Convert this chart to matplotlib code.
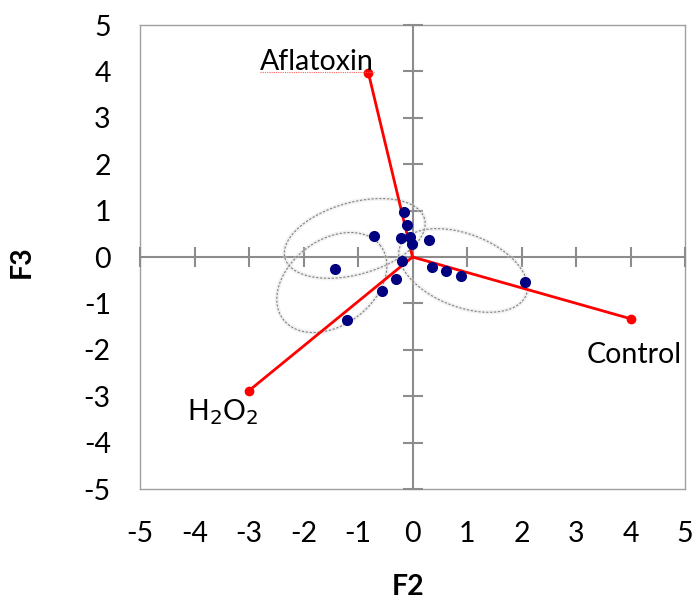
import numpy as np
import matplotlib
matplotlib.use("Agg")
import matplotlib.pyplot as plt
from matplotlib.lines import Line2D

plt.rcParams['font.family'] = ['Lato', 'DejaVu Sans']

# sample scores on F2 / F3
f2_scores = [-0.15, -0.10, -0.70, -0.21, -0.04, -0.01, 0.30, -1.42, -0.20,
             0.35, 0.62, 0.89, 2.06, -0.30, -0.56, -1.20]
f3_scores = [0.97, 0.70, 0.45, 0.41, 0.43, 0.29, 0.36, -0.25, -0.08,
             -0.22, -0.31, -0.40, -0.54, -0.47, -0.74, -1.35]

# treatment vectors
vec_names = ['Aflatoxin', 'Control', 'H$_2$O$_2$']
vec_f2 = [-0.81, 4.0, -3.0]
vec_f3 = [3.97, -1.33, -2.88]

# group ellipses: centre (F2, F3), semi-axes in F2 units, tilt in degrees
ell_cx = [-1.06, -1.48, 0.93]
ell_cy = [0.40, -0.55, -0.29]
ell_a = [1.33, 1.12, 1.24]
ell_b = [0.66, 0.78, 0.67]
ell_ang = [15.8, 37.0, -21.0]

ticks = np.arange(-5, 6)

fig = plt.figure(figsize=(6.96, 6.04), dpi=100)
rect = [140 / 696, 1 - 489 / 604, 545 / 696, 464 / 604]

# outer frame with the tick labels
ax_bg = fig.add_axes(rect)
ax_bg.set_xlim(-5, 5)
ax_bg.set_ylim(-5, 5)
ax_bg.set_xticks(ticks)
ax_bg.set_yticks(ticks)
ax_bg.set_xticklabels([str(t) for t in ticks])
ax_bg.set_yticklabels([str(t) for t in ticks])
for s in ax_bg.spines.values():
    s.set_color('#a0a0a0')
    s.set_linewidth(1.0)
ax_bg.tick_params(axis='x', length=0, pad=23, labelsize=20.5)
ax_bg.tick_params(axis='y', length=0, pad=21, labelsize=20.5)

# axes crossing at the origin
ax = fig.add_axes(rect)
ax.set_xlim(-5, 5)
ax.set_ylim(-5, 5)
ax.patch.set_visible(False)
ax.spines['top'].set_visible(False)
ax.spines['right'].set_visible(False)
ax.spines['left'].set_position(('data', 0))
ax.spines['bottom'].set_position(('data', 0))
for k in ('left', 'bottom'):
    ax.spines[k].set_color('#8c8c8c')
    ax.spines[k].set_linewidth(1.5)
ax.set_xticks(ticks)
ax.set_yticks(ticks)
ax.tick_params(direction='inout', length=14.4, width=1.5, color='#8c8c8c',
               labelbottom=False, labelleft=False)

# ellipses drawn with equal on-screen scaling
x_ppu = rect[2] * 696 / 10
y_ppu = rect[3] * 604 / 10
t = np.linspace(0, 2 * np.pi, 200)
for cx, cy, a, b, ang in zip(ell_cx, ell_cy, ell_a, ell_b, ell_ang):
    th = np.radians(ang)
    ex = cx + a * np.cos(t) * np.cos(th) - b * np.sin(t) * np.sin(th)
    ey = cy + (a * np.cos(t) * np.sin(th) + b * np.sin(t) * np.cos(th)) * x_ppu / y_ppu
    ax.plot(ex, ey, color='#d8d8d8', lw=3, alpha=0.35, zorder=3)
    ax.plot(ex, ey, color='#808080', lw=0.8, dashes=(2, 1.5), zorder=3)

# vectors from the origin
for vx, vy in zip(vec_f2, vec_f3):
    ax.plot([0, vx], [0, vy], color='#ff0000', lw=2.0, zorder=4,
            marker='o', markersize=6, markevery=[1])

ax.plot(f2_scores, f3_scores, 'o', color='#000080', markersize=7,
        zorder=5, linestyle='none')

# vector labels
lab_off = [(4, 2), (3, -17), (7, -5)]
lab_ha = ['right', 'center', 'right']
lab_va = ['baseline', 'top', 'top']
txts = []
for name, vx, vy, off, ha, va in zip(vec_names, vec_f2, vec_f3, lab_off, lab_ha, lab_va):
    txts.append(ax.annotate(name, (vx, vy), xytext=off, textcoords='offset points',
                            ha=ha, va=va, fontsize=20.5, zorder=6))

fig.text(408 / 696, 1 - 587 / 604, 'F2', ha='center', va='center',
         fontsize=20.5, fontweight='bold')
fig.text(22 / 696, 1 - 262 / 604, 'F3', ha='center', va='center',
         fontsize=20.5, fontweight='bold', rotation=90)

# dotted red underline under the first label
fig.canvas.draw()
bb = txts[0].get_window_extent()
fig.add_artist(Line2D([bb.x0, bb.x1], [bb.y0 + 3, bb.y0 + 3], transform=None,
                      color='#ff6060', lw=0.8, linestyle=(0, (1, 1))))

fig.savefig('out.png', dpi=100)
